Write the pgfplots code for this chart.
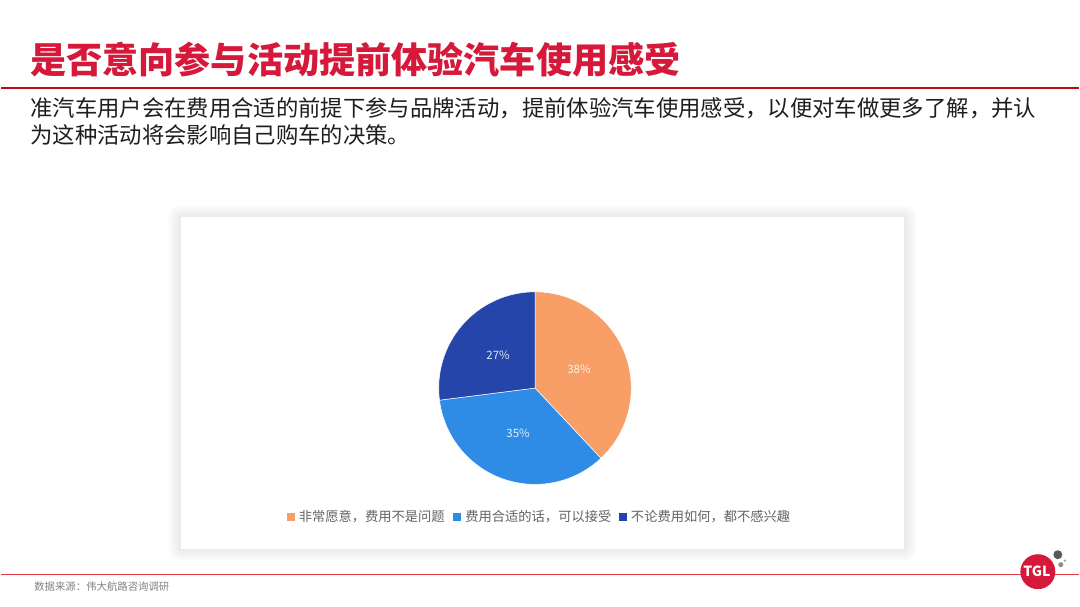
\documentclass[border=0pt]{standalone}
\usepackage{fontspec}
\setmainfont{Noto Sans CJK SC}
\usepackage{pgfplots}
\pgfplotsset{compat=1.18}
\definecolor{cOr}{RGB}{247,159,103}
\definecolor{cBl}{RGB}{47,140,230}
\definecolor{cDb}{RGB}{38,69,171}
\definecolor{cRed}{RGB}{214,25,58}
\definecolor{cLine}{RGB}{192,10,20}
\definecolor{cFoot}{RGB}{228,60,70}
\definecolor{cTxt}{RGB}{30,30,30}
\definecolor{cGray}{RGB}{100,100,100}
\definecolor{cSrc}{RGB}{130,130,130}
\begin{document}
\begin{tikzpicture}
% pie values (percent), clockwise from 12 o'clock
\def\vA{38}\def\vB{35}\def\vC{27}
\pgfmathsetmacro\aA{90-3.6*\vA}
\pgfmathsetmacro\aB{\aA-3.6*\vB}
\pgfmathsetmacro\aC{\aB-3.6*\vC}
\begin{axis}[width=1080pt,height=608pt,scale only axis,
  xmin=0,xmax=1080,ymin=0,ymax=608,hide axis,clip=false]
\fill[white] (axis cs:0,0) rectangle (axis cs:1080,608);
% title
\node[anchor=west,text=cRed,font=\fontsize{36.2}{40}\selectfont\bfseries,inner sep=0pt] at (axis cs:29,548) {是否意向参与活动提前体验汽车使用感受};
\draw[cLine,line width=2.5pt] (axis cs:0,520) -- (axis cs:1080,520);
% subtitle
\node[anchor=west,text=cTxt,font=\fontsize{22.4}{26}\selectfont,inner sep=0pt] at (axis cs:29,500) {准汽车用户会在费用合适的前提下参与品牌活动，提前体验汽车使用感受，以便对车做更多了解，并认};
\node[anchor=west,text=cTxt,font=\fontsize{22.4}{26}\selectfont,inner sep=0pt] at (axis cs:29,473) {为这种活动将会影响自己购车的决策。};
% panel with soft shadow
\fill[black,opacity=0.018,rounded corners=12pt] (axis cs:168,46) rectangle (axis cs:917,402);
\fill[black,opacity=0.018,rounded corners=10pt] (axis cs:171,49) rectangle (axis cs:914,399);
\fill[black,opacity=0.018,rounded corners=8pt] (axis cs:174,52) rectangle (axis cs:911,396);
\fill[black,opacity=0.018,rounded corners=6pt] (axis cs:177,55) rectangle (axis cs:908,393);
\fill[white] (axis cs:180,58) rectangle (axis cs:905,390);
% pie
\fill[cOr,draw=white,line width=0.5pt] (axis cs:535,219) -- ++(90:96.5pt) arc[start angle=90,end angle=\aA,radius=96.5pt] -- cycle;
\fill[cBl,draw=white,line width=0.5pt] (axis cs:535,219) -- ++(\aA:96.5pt) arc[start angle=\aA,end angle=\aB,radius=96.5pt] -- cycle;
\fill[cDb,draw=white,line width=0.5pt] (axis cs:535,219) -- ++(\aB:96.5pt) arc[start angle=\aB,end angle=\aC,radius=96.5pt] -- cycle;
\node[text=white,opacity=0.85,font=\fontsize{11.5}{13}\selectfont] at (axis cs:579,238) {38\%};
\node[text=white,opacity=0.85,font=\fontsize{11.5}{13}\selectfont] at (axis cs:518,174) {35\%};
\node[text=white,opacity=0.85,font=\fontsize{11.5}{13}\selectfont] at (axis cs:498,252) {27\%};
% legend
\fill[cOr] (axis cs:286,86) rectangle (axis cs:294,94);
\node[anchor=west,text=cGray,font=\fontsize{13.3}{15}\selectfont,inner sep=0pt] at (axis cs:298,90) {非常愿意，费用不是问题};
\fill[cBl] (axis cs:453,86) rectangle (axis cs:461,94);
\node[anchor=west,text=cGray,font=\fontsize{13.3}{15}\selectfont,inner sep=0pt] at (axis cs:465,90) {费用合适的话，可以接受};
\fill[cDb] (axis cs:619,86) rectangle (axis cs:627,94);
\node[anchor=west,text=cGray,font=\fontsize{13.3}{15}\selectfont,inner sep=0pt] at (axis cs:631,90) {不论费用如何，都不感兴趣};
% footer
\draw[cFoot,line width=1.3pt] (axis cs:0,32) -- (axis cs:1080,32);
\node[anchor=west,text=cSrc,font=\fontsize{10.4}{12}\selectfont,inner sep=0pt] at (axis cs:33,20) {数据来源：伟大航路咨询调研};
% logo
\fill[cRed] (axis cs:1039,35) circle[radius=17.5pt];
\node[text=white,font=\fontsize{14}{16}\selectfont\bfseries,inner sep=0pt] at (axis cs:1038,35) {TGL};
\fill[black!65] (axis cs:1059,52) circle[radius=4.5pt];
\fill[black!45] (axis cs:1062,42) circle[radius=2.5pt];
\fill[black!35] (axis cs:1066,46) circle[radius=1.3pt];
\end{axis}
\end{tikzpicture}
\end{document}
